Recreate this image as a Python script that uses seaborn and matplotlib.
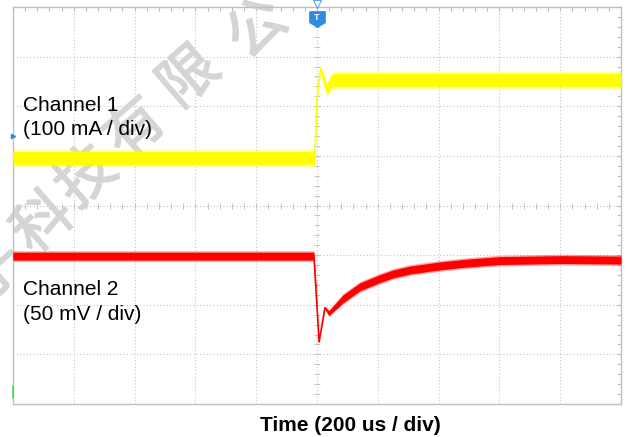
import numpy as np
import pandas as pd
import matplotlib
matplotlib.use('Agg')
import matplotlib.pyplot as plt
import matplotlib.patheffects as pe
from matplotlib.path import Path
import seaborn as sns

# time in us (200 us / div, trigger at 0), level in screen divisions from the bottom
ch1_t = [-1000, -7, 0, 12, 22, 32, 42, 52, 1000]
ch1_v = [4.96, 4.96, 6.13, 6.77, 6.55, 6.33, 6.45, 6.53, 6.53]
ch1_noise = [0.13, 0.13, 0.0, 0.04, 0.08, 0.1, 0.12, 0.13, 0.13]

ch2_t = [-1000, -10, 7, 26, 39, 86, 141, 204, 250, 306, 401, 493, 602, 803, 1000]
ch2_v = [2.98, 2.98, 1.25, 1.94, 1.83, 2.12, 2.36, 2.52, 2.62, 2.70, 2.78, 2.84, 2.89, 2.91, 2.90]
ch2_noise = [0.08, 0.08, 0.0, 0.02, 0.05, 0.08, 0.08, 0.08, 0.08, 0.08, 0.08, 0.08, 0.08, 0.08, 0.08]

labels = ['Channel 1', '(100 mA / div)', 'Channel 2', '(50 mV / div)']
xlabel = 'Time (200 us / div)'
watermark = ['子', '科', '技', '有', '限', '公']

df1 = pd.DataFrame({'t': ch1_t, 'v': ch1_v, 'n': ch1_noise})
df2 = pd.DataFrame({'t': ch2_t, 'v': ch2_v, 'n': ch2_noise})

sns.set_style('white')
plt.rcParams['font.family'] = ['Liberation Sans', 'DejaVu Sans']

W, H = 635, 437
fig = plt.figure(figsize=(W / 100, H / 100), dpi=100)
ax = fig.add_axes([13 / W, 1 - 404 / H, 608 / W, 397 / H])

# scope graticule
ax.set_xlim(-1000, 1000)
ax.set_ylim(0, 8)
ax.set_xticks(np.arange(-1000, 1001, 200))
ax.set_xticks(np.arange(-1000, 1001, 40), minor=True)
ax.set_yticks(np.arange(0, 9, 1))
ax.set_yticks(np.arange(0, 8.01, 0.2), minor=True)
ax.grid(True, which='major', color='#c4c4c4', lw=0.8, ls=(0, (1, 2)))
ax.set_axisbelow(True)
ax.tick_params(which='both', direction='in', top=True, right=True,
               labelbottom=False, labelleft=False, length=3, width=0.8, color='#bdbdbd')
for s in ax.spines.values():
    s.set_color('#c0c0c0')
    s.set_linewidth(1)
ax.plot(np.arange(-1000, 1001, 40), np.full(51, 4.0), ls='none', marker='|',
        ms=4, mew=0.7, color='#c4c4c4', zorder=1)
ax.plot(np.zeros(41), np.arange(0, 8.01, 0.2), ls='none', marker='_',
        ms=4, mew=0.7, color='#c4c4c4', zorder=1)

# watermark (behind the traces)
wm_pos = [(-5, 272), (44, 224), (87, 178), (136, 130), (190, 78), (258, 30)]
for ch, (px, py) in zip(watermark, wm_pos):
    ax.text(px / W, 1 - py / H, ch, transform=fig.transFigure, fontsize=42,
            family=['Noto Sans CJK SC'], color='#d5d5d5', rotation=41,
            ha='center', va='center', rotation_mode='anchor', zorder=1.5, clip_on=False,
            path_effects=[pe.withStroke(linewidth=1.2, foreground='#d5d5d5')])

# traces: noise envelope + thin centre line
for df, col in [(df1, '#ffff00'), (df2, '#ff0000')]:
    ax.fill_between(df['t'], df['v'] - df['n'] * 1.35, df['v'] + df['n'] * 1.35,
                    color=col, alpha=0.35, lw=0, zorder=3)
    ax.fill_between(df['t'], df['v'] - df['n'], df['v'] + df['n'],
                    color=col, lw=0, zorder=3)
    sns.lineplot(data=df, x='t', y='v', color=col, lw=1.2, ax=ax, zorder=3.1)
ax.set_xlabel('')
ax.set_ylabel('')

# trigger marker
shield = Path([(-1, 1), (1, 1), (1, -0.4), (0, -1), (-1, -0.4), (-1, 1)])
ax.plot([0], [7.76], marker=shield, ms=11, color='#2f8ae0', zorder=5, clip_on=False)
ax.text(0, 7.79, 'T', color='white', fontsize=6.5, fontweight='bold',
        ha='center', va='center', zorder=6)
ax.plot([0], [8.06], marker='v', ms=6, mfc='white', mec='#5aa7ef', mew=0.8,
        zorder=5, clip_on=False)
ax.plot([-1000], [5.4], marker='>', ms=3, color='#2f8ae0', zorder=5, clip_on=False)
ax.plot([-1000, -1000], [0.12, 0.36], color='#44dd44', lw=1.2, zorder=5, clip_on=False)

# text
fs = 15
fig.text(23 / W, 1 - 111 / H, labels[0], fontsize=fs, va='baseline', color='black')
fig.text(23 / W, 1 - 135 / H, labels[1], fontsize=fs, va='baseline', color='black')
fig.text(23 / W, 1 - 295 / H, labels[2], fontsize=fs, va='baseline', color='black')
fig.text(23 / W, 1 - 320 / H, labels[3], fontsize=fs, va='baseline', color='black')
fig.text(350 / W, 1 - 431 / H, xlabel, fontsize=fs, fontweight='bold', color='black',
         ha='center', va='baseline')

fig.savefig('out.png', dpi=100)
